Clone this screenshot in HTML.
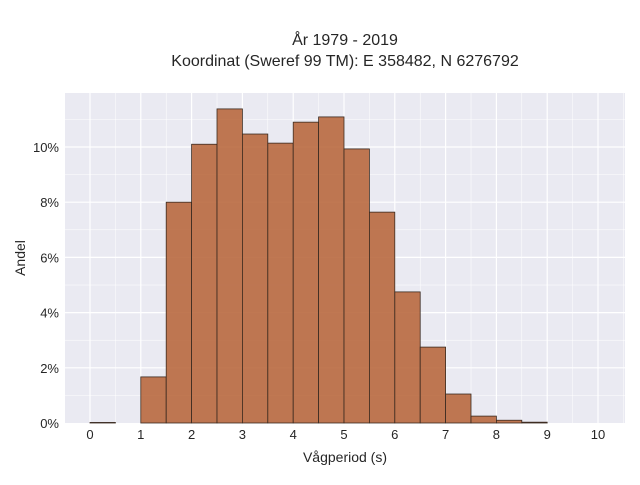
<!DOCTYPE html>
<html><head><meta charset="utf-8"><style>
body{margin:0;background:#fff;font-family:"Liberation Sans",sans-serif;}
svg text{font-family:"Liberation Sans",sans-serif;fill:#262626;}
</style></head><body>
<svg width="640" height="480">
<text x="345" y="45" text-anchor="middle" font-size="16">År 1979 - 2019</text>
<text x="345" y="66" text-anchor="middle" font-size="16">Koordinat (Sweref 99 TM): E 358482, N 6276792</text>
<rect x="65" y="93" width="560" height="330" fill="#eaeaf2"/>
<g id="grid"></g><g id="bars"></g><g id="axes"></g>
<text x="345" y="462" text-anchor="middle" font-size="14">Vågperiod (s)</text>
<text transform="translate(25,258) rotate(-90)" text-anchor="middle" font-size="14">Andel</text>
</svg>
<script>
const binStarts=[0,0.5,1,1.5,2,2.5,3,3.5,4,4.5,5,5.5,6,6.5,7,7.5,8,8.5,9,9.5];
const shares=[0.02,0,1.67,8.0,10.1,11.38,10.47,10.14,10.9,11.09,9.93,7.64,4.75,2.75,1.05,0.25,0.1,0.03,0,0];
const xTicks=[0,1,2,3,4,5,6,7,8,9,10];
const yTicks=[0,2,4,6,8,10];
const binWidth=0.5;
const NS="http://www.w3.org/2000/svg";
const sx=v=>90+v*50.8, sy=v=>423-v*27.6;
function mk(t,a,p){const e=document.createElementNS(NS,t);for(const k in a)e.setAttribute(k,a[k]);p.appendChild(e);return e;}
const g=document.getElementById('grid'),b=document.getElementById('bars'),ax=document.getElementById('axes');
for(let v=-0.5;v<=10.5;v+=0.5){const l=mk('line',{x1:sx(v),x2:sx(v),y1:93,y2:423,stroke:'#fff','stroke-width':Number.isInteger(v)?1.2:0.5},g);

}
for(let v=1;v<=11;v+=1){const l=mk('line',{x1:65,x2:625,y1:sy(v),y2:sy(v),stroke:'#fff','stroke-width':v%2==0?1.2:0.5},g);

}
binStarts.forEach((s,i)=>{if(shares[i]<=0)return;const r=mk('rect',{x:sx(s),y:sy(shares[i]),width:sx(s+binWidth)-sx(s),height:sy(0)-sy(shares[i]),fill:'#b9693f','fill-opacity':0.9,stroke:'#3a2a20','stroke-width':0.8},b);

});
xTicks.forEach(v=>{const t=mk('text',{x:sx(v),y:439,'text-anchor':'middle','font-size':13},ax);t.textContent=v;

});
yTicks.forEach(v=>{const t=mk('text',{x:59,y:sy(v)+5,'text-anchor':'end','font-size':13},ax);t.textContent=v+'%';

});
</script>
</body></html>
